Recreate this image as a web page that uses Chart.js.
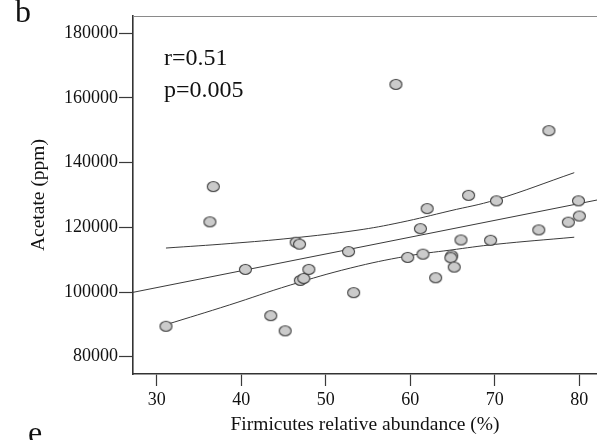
<!DOCTYPE html>
<html>
<head>
<meta charset="utf-8">
<script src="https://cdn.jsdelivr.net/npm/chart.js@4/dist/chart.umd.min.js"></script>
<style>
  html, body { margin: 0; padding: 0; background: #fff; overflow: hidden; }
  #wrap { width: 597px; height: 440px; overflow: hidden; }
  canvas { display: block; }
</style>
</head>
<body>
<div id="wrap"><canvas id="c" width="597" height="440"></canvas></div>
<script>
// ---- data ----
const firmicutes = [31.1, 36.3, 36.7, 40.5, 43.5, 45.2, 46.5, 46.9, 47.0, 47.4, 48.0, 52.7, 53.3, 58.3, 59.7, 61.2, 61.5, 62.0, 63.0, 64.9, 64.8, 65.2, 66.0, 66.9, 69.5, 70.2, 75.2, 76.4, 78.7, 80.0, 79.9];
const acetate = [89400, 121700, 132600, 107000, 92700, 88000, 115400, 114800, 103600, 104200, 107000, 112500, 99800, 164200, 110700, 119600, 111700, 125800, 104400, 111200, 110600, 107700, 116100, 129900, 116000, 128200, 119200, 149900, 121600, 123500, 128200];

const fitX = [27.2, 82.1];
const fitY = [99900, 128450];

const upperX = [31.1, 38.7, 46.1, 53.7, 58.8, 64.7, 70.1, 79.4];
const upperY = [113600, 115000, 116700, 119100, 121500, 125100, 128500, 136900];

const lowerX = [31.1, 38.6, 45.8, 52.9, 59.6, 64.7, 70.1, 79.4];
const lowerY = [89900, 96000, 102150, 107400, 111100, 112950, 114750, 116950];

const xTicks = [30, 40, 50, 60, 70, 80];
const yTicks = [80000, 100000, 120000, 140000, 160000, 180000];

const xTitle = 'Firmicutes relative abundance (%)';
const yTitle = 'Acetate (ppm)';
const statLines = ['r=0.51', 'p=0.005'];
const panelLabel = 'b';
const nextPanelLabel = 'e';

// ---- styling ----
const SERIF = '"Liberation Serif", "Times New Roman", serif';
const LINE = '#3a3a3a';

function pairs(xs, ys) { return xs.map((x, i) => ({ x: x, y: ys[i] })); }

// elliptical marker (reference markers are slightly wider than tall)
const marker = document.createElement('canvas');
marker.width = 15; marker.height = 13;
(function () {
  const m = marker.getContext('2d');
  m.beginPath();
  m.ellipse(7.5, 6.5, 6, 5, 0, 0, Math.PI * 2);
  m.fillStyle = '#cbcbcb';
  m.fill();
  m.lineWidth = 1.1;
  m.strokeStyle = '#404040';
  m.stroke();
})();

const decorations = {
  id: 'decorations',
  afterDraw(chart) {
    const ctx = chart.ctx;
    const a = chart.chartArea;
    ctx.save();
    // top frame line
    ctx.strokeStyle = '#8a8a8a';
    ctx.lineWidth = 1;
    ctx.beginPath();
    ctx.moveTo(a.left, a.top + 0.5);
    ctx.lineTo(a.right, a.top + 0.5);
    ctx.stroke();
    // annotation text
    ctx.fillStyle = '#111';
    ctx.textAlign = 'left';
    ctx.textBaseline = 'alphabetic';
    ctx.font = '24px ' + SERIF;
    ctx.fillText(statLines[0], a.left + 31, 65);
    ctx.fillText(statLines[1], a.left + 31, 97);
    // panel letters
    ctx.font = '32px ' + SERIF;
    ctx.fillText(panelLabel, 15, 22);
    ctx.fillText(nextPanelLabel, 28, 443);
    ctx.restore();
  }
};

const lineStyle = {
  showLine: true,
  borderColor: LINE,
  borderWidth: 1,
  pointRadius: 0,
  tension: 0.4,
  order: 2
};

new Chart(document.getElementById('c'), {
  type: 'scatter',
  data: {
    datasets: [
      Object.assign({ label: 'fit', data: pairs(fitX, fitY) }, lineStyle, { tension: 0 }),
      Object.assign({ label: 'upper', data: pairs(upperX, upperY) }, lineStyle),
      Object.assign({ label: 'lower', data: pairs(lowerX, lowerY) }, lineStyle),
      {
        label: 'samples',
        data: pairs(firmicutes, acetate),
        pointStyle: marker,
        pointRadius: 6,
        order: 1
      }
    ]
  },
  options: {
    responsive: false,
    animation: false,
    devicePixelRatio: 1,
    layout: { autoPadding: false, padding: { top: 16, right: 0, left: 0, bottom: 0 } },
    plugins: {
      legend: { display: false },
      tooltip: { enabled: false }
    },
    scales: {
      x: {
        type: 'linear',
        min: 27.2,
        max: 82.09,
        afterBuildTicks: s => { s.ticks = xTicks.map(v => ({ value: v })); },
        afterFit: s => { s.height = 66; s.paddingLeft = 0; s.paddingRight = 0; },
        grid: {
          drawOnChartArea: false,
          drawTicks: true,
          tickLength: 12,
          tickWidth: 1.2,
          tickColor: LINE
        },
        border: { display: true, color: '#333', width: 1.6 },
        ticks: {
          color: '#111',
          padding: 3,
          maxRotation: 0,
          font: { family: SERIF, size: 18 },
          callback: v => String(v)
        },
        title: {
          display: true,
          text: xTitle,
          color: '#111',
          font: { family: SERIF, size: 19.5 },
          padding: { top: 0, bottom: 3 }
        }
      },
      y: {
        type: 'linear',
        min: 74650,
        max: 185350,
        afterBuildTicks: s => { s.ticks = yTicks.map(v => ({ value: v })); },
        afterFit: s => { s.width = 133; s.paddingTop = 0; s.paddingBottom = 0; },
        grid: {
          drawOnChartArea: false,
          drawTicks: true,
          tickLength: 14,
          tickWidth: 1.2,
          tickColor: LINE
        },
        border: { display: true, color: '#333', width: 1.6 },
        ticks: {
          color: '#111',
          padding: 1,
          font: { family: SERIF, size: 18 },
          callback: v => String(v)
        },
        title: {
          display: true,
          text: yTitle,
          color: '#111',
          font: { family: SERIF, size: 19.5 },
          padding: { top: 27, bottom: 0 }
        }
      }
    }
  },
  plugins: [decorations]
});
</script>
</body>
</html>
